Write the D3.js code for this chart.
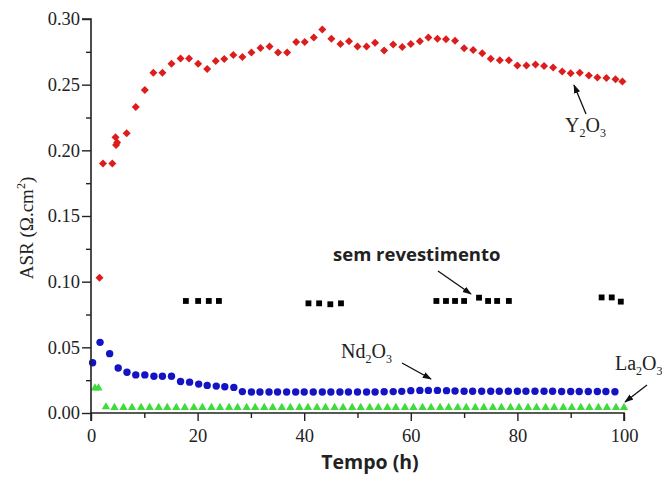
<!DOCTYPE html>
<html>
<head>
<meta charset="utf-8">
<script src="https://cdn.jsdelivr.net/npm/d3@7"></script>
<style>
  html, body { margin: 0; padding: 0; background: #fff; }
  svg { display: block; }
</style>
</head>
<body>
<svg id="chart" width="662" height="477"></svg>
<script>
// ---------- data ----------
const xTicks = [0, 20, 40, 60, 80, 100];
const yTicks = [0.00, 0.05, 0.10, 0.15, 0.20, 0.25, 0.30];

const y2o3Time = [1.6, 2.25, 4.0, 4.6, 4.7, 4.9, 6.7, 8.4, 10.1, 11.7, 13.4, 15.1, 16.8, 18.4, 20.1, 21.8, 23.4,
  25.0, 26.7, 28.4, 30.1, 31.8, 33.5, 35.1, 36.8, 38.5, 40.1, 41.8, 43.4, 45.1, 46.8, 48.4, 50.0, 51.7, 53.3,
  55.0, 56.7, 58.4, 60.0, 61.7, 63.3, 65.0, 66.6, 68.3, 70.0, 71.7, 73.4, 75.0, 76.7, 78.4, 80.0, 81.7, 83.4,
  85.0, 86.7, 88.4, 90.0, 91.7, 93.4, 95.0, 96.7, 98.4, 99.7];
const y2o3ASR = [0.103, 0.190, 0.190, 0.210, 0.204, 0.206, 0.213, 0.233, 0.246, 0.259, 0.259, 0.266, 0.270, 0.270, 0.266, 0.262, 0.268,
  0.2695, 0.2726, 0.271, 0.2744, 0.278, 0.279, 0.2745, 0.2745, 0.2825, 0.2825, 0.286, 0.292, 0.285, 0.281, 0.283, 0.279, 0.279, 0.282,
  0.276, 0.2806, 0.2787, 0.281, 0.283, 0.286, 0.285, 0.2845, 0.2835, 0.2777, 0.2764, 0.2739, 0.2698, 0.2686, 0.2686, 0.2646, 0.2646, 0.2654,
  0.2642, 0.263, 0.260, 0.2587, 0.259, 0.257, 0.2554, 0.255, 0.2541, 0.2524];

const bareTime = [17.8, 20.1, 22.1, 24.0, 40.8, 42.8, 44.9, 46.9, 64.8, 66.6, 68.3, 70.0, 72.8, 74.5, 76.2, 78.4, 95.8, 97.7, 99.4];
const bareASR  = [0.0853, 0.0853, 0.0853, 0.0853, 0.0835, 0.0835, 0.0828, 0.0835, 0.0853, 0.0853, 0.0853, 0.0853, 0.0878, 0.0853, 0.0853, 0.0853, 0.0880, 0.0880, 0.0848];

const nd2o3Time = [0.3, 1.7, 3.5, 5.1, 6.75, 8.4, 10.1, 11.8, 13.4, 15.1, 16.8, 18.5, 20.2, 21.8, 23.5, 25.1, 26.8,
  28.4, 30.1, 31.7, 33.4, 35.0, 36.7, 38.4, 40.0, 41.7, 43.4, 45.0, 46.7, 48.3, 50.0, 51.7, 53.3, 55.0, 56.7, 58.3,
  60.0, 61.7, 63.3, 65.0, 66.7, 68.3, 70.0, 71.6, 73.3, 75.0, 76.6, 78.3, 80.0, 81.6, 83.3, 85.0, 86.6, 88.3, 90.0,
  91.6, 93.3, 95.0, 96.6, 98.3];
const nd2o3ASR = [0.0383, 0.0538, 0.0452, 0.0343, 0.031, 0.029, 0.029, 0.028, 0.028, 0.028, 0.024, 0.0235, 0.022, 0.021, 0.0205, 0.020, 0.0195,
  0.0163, 0.0160, 0.0160, 0.0160, 0.0160, 0.0160, 0.0160, 0.0160, 0.0160, 0.0160, 0.0160, 0.0160, 0.0160, 0.0160, 0.0160, 0.0160, 0.0162, 0.0163, 0.0165,
  0.0170, 0.0172, 0.0172, 0.0172, 0.0170, 0.0168, 0.0166, 0.0166, 0.0166, 0.0166, 0.0166, 0.0166, 0.0166, 0.0166, 0.0166, 0.0166, 0.0166, 0.0164, 0.0164,
  0.0164, 0.0164, 0.0164, 0.0164, 0.0162];

const la2o3Time = [0.75, 1.4, 2.8, 4.4, 6.1, 7.7, 9.4, 11.0, 12.7, 14.3, 16.0, 17.6, 19.3, 20.9, 22.6, 24.2, 25.9, 27.5,
  29.2, 30.8, 32.5, 34.1, 35.8, 37.4, 39.1, 40.7, 42.4, 44.0, 45.7, 47.3, 49.0, 50.6, 52.3, 53.9, 55.6, 57.2, 58.9,
  60.5, 62.2, 63.8, 65.5, 67.1, 68.8, 70.4, 72.1, 73.7, 75.4, 77.0, 78.7, 80.3, 82.0, 83.6, 85.3, 86.9, 88.6, 90.2,
  91.9, 93.5, 95.2, 96.8, 98.5, 100.0];
const la2o3ASR = [0.0193, 0.0193, 0.0050, 0.0045, 0.0045, 0.0045, 0.0045, 0.0045, 0.0045, 0.0045, 0.0045, 0.0045, 0.0045, 0.0045, 0.0045, 0.0045, 0.0045, 0.0045,
  0.0045, 0.0045, 0.0045, 0.0045, 0.0045, 0.0045, 0.0045, 0.0045, 0.0045, 0.0045, 0.0045, 0.0045, 0.0045, 0.0045, 0.0045, 0.0045, 0.0045, 0.0045, 0.0045,
  0.0045, 0.0045, 0.0045, 0.0045, 0.0045, 0.0045, 0.0045, 0.0045, 0.0045, 0.0045, 0.0045, 0.0045, 0.0045, 0.0045, 0.0045, 0.0045, 0.0045, 0.0045, 0.0045,
  0.0045, 0.0045, 0.0045, 0.0045, 0.0045, 0.0045];

// ---------- layout ----------
const svg = d3.select("#chart");
const W = 662, H = 477;
svg.append("rect").attr("width", W).attr("height", H).attr("fill", "#fff");

const x = d3.scaleLinear().domain([0, 100]).range([91, 624]);
const y = d3.scaleLinear().domain([0, 0.30]).range([413, 19]);

const serif = "'Liberation Serif', 'Times New Roman', serif";
const sans = "'Open Sans', 'Noto Sans', sans-serif";

const zip = (a, b) => a.map((v, i) => [v, b[i]]);

// ---------- series ----------
const marks = svg.append("g");

marks.selectAll("path.la").data(zip(la2o3Time, la2o3ASR)).join("path")
  .attr("d", d3.symbol(d3.symbolTriangle, 30)())
  .attr("transform", d => `translate(${x(d[0])},${y(d[1]) + 0.5})`)
  .attr("fill", "#3ddc3a");

marks.selectAll("circle.nd").data(zip(nd2o3Time, nd2o3ASR)).join("circle")
  .attr("cx", d => x(d[0])).attr("cy", d => y(d[1])).attr("r", 3.7)
  .attr("fill", "#1414c4");

marks.selectAll("path.bare").data(zip(bareTime, bareASR)).join("path")
  .attr("d", d3.symbol(d3.symbolSquare, 34)())
  .attr("transform", d => `translate(${x(d[0])},${y(d[1])})`)
  .attr("fill", "#000");

marks.selectAll("path.y").data(zip(y2o3Time, y2o3ASR)).join("path")
  .attr("d", d3.symbol(d3.symbolSquare, 32)())
  .attr("transform", d => `translate(${x(d[0])},${y(d[1])}) rotate(45)`)
  .attr("fill", "#dd1c1c");

// ---------- axes ----------
const yAxis = svg.append("g").attr("transform", `translate(${x(0)},0)`)
  .call(d3.axisLeft(y).tickValues(yTicks).tickFormat(d3.format(".2f")).tickSize(9).tickPadding(2));
const xAxis = svg.append("g").attr("transform", `translate(0,${y(0)})`)
  .call(d3.axisBottom(x).tickValues(xTicks).tickFormat(d3.format("d")).tickSize(8).tickPadding(8));

// minor ticks
svg.append("g").attr("transform", `translate(${x(0)},0)`)
  .call(d3.axisLeft(y).tickValues([0.025, 0.075, 0.125, 0.175, 0.225, 0.275]).tickFormat("").tickSize(5))
  .select(".domain").remove();
svg.append("g").attr("transform", `translate(0,${y(0)})`)
  .call(d3.axisBottom(x).tickValues([10, 30, 50, 70, 90]).tickFormat("").tickSize(5))
  .select(".domain").remove();

svg.selectAll(".domain").attr("stroke", "#222").attr("stroke-width", 1.6);
svg.selectAll(".tick line").attr("stroke", "#222").attr("stroke-width", 1.4);
[yAxis, xAxis].forEach(g => g.selectAll("text")
  .attr("font-family", serif).attr("font-size", 18.5).attr("fill", "#222"));
yAxis.select(".domain").attr("d", `M-9,${y(0.30)}H0V${y(0)}`);
xAxis.select(".domain").attr("d", `M${x(0)},8V0H${x(100)}V8`);

// ---------- axis titles ----------
const yt = svg.append("text")
  .attr("transform", "translate(33,228) rotate(-90)")
  .attr("text-anchor", "middle")
  .attr("font-family", serif).attr("font-size", 19).attr("fill", "#222");
yt.append("tspan").text("ASR (Ω.cm");
yt.append("tspan").attr("font-size", 12).attr("dy", -8).text("2");
yt.append("tspan").attr("dy", 8).text(")");

svg.append("text").attr("x", 370).attr("y", 469)
  .attr("text-anchor", "middle")
  .attr("font-family", sans).attr("font-weight", "bold").attr("font-size", 19.5).attr("fill", "#222")
  .text("Tempo (h)");

// ---------- annotations ----------
const defs = svg.append("defs");
defs.append("marker").attr("id", "ah").attr("viewBox", "0 0 10 10")
  .attr("refX", 9).attr("refY", 5).attr("markerWidth", 7).attr("markerHeight", 7)
  .attr("orient", "auto")
  .append("path").attr("d", "M0,1.5L10,5L0,8.5Z").attr("fill", "#111");

function arrow(x1, y1, x2, y2) {
  svg.append("line").attr("x1", x1).attr("y1", y1).attr("x2", x2).attr("y2", y2)
    .attr("stroke", "#111").attr("stroke-width", 1.3).attr("marker-end", "url(#ah)");
}
function chem(xp, yp, base1, sub1, base2, sub2) {
  const t = svg.append("text").attr("x", xp).attr("y", yp)
    .attr("font-family", serif).attr("font-size", 20).attr("fill", "#222");
  t.append("tspan").text(base1);
  t.append("tspan").attr("font-size", 12).attr("dy", 5).text(sub1);
  t.append("tspan").attr("dy", -5).text(base2);
  t.append("tspan").attr("font-size", 12).attr("dy", 5).text(sub2);
}

chem(565, 132, "Y", "2", "O", "3");
arrow(586, 114, 574, 85);

chem(341, 358, "Nd", "2", "O", "3");
arrow(402, 363, 431, 379);

chem(615, 370, "La", "2", "O", "3");
arrow(647, 385, 625, 402);

svg.append("text").attr("x", 333).attr("y", 261)
  .attr("font-family", sans).attr("font-weight", "bold").attr("font-size", 18.5).attr("fill", "#222")
  .text("sem revestimento");
arrow(438, 271, 471, 294);
</script>
</body>
</html>
